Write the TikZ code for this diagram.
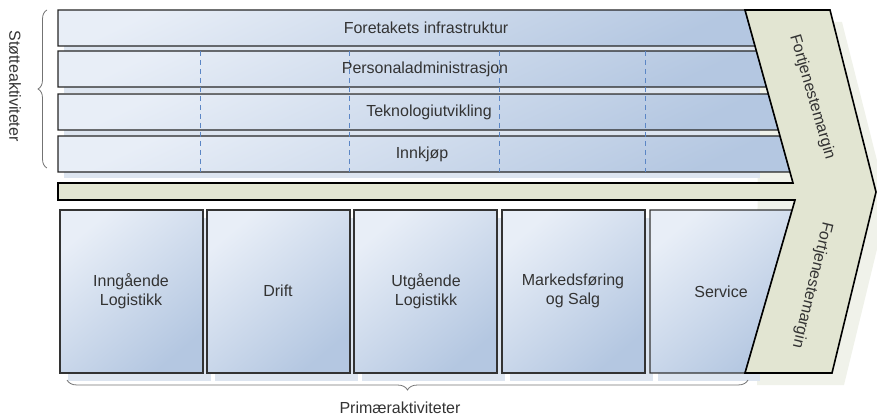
\documentclass[tikz,border=0pt]{standalone}
\usepackage{fontspec}
\setmainfont{Liberation Sans}
\usetikzlibrary{decorations.pathreplacing}
\definecolor{barL}{HTML}{E8EEF7}
\definecolor{barD}{HTML}{B4C7E1}
\definecolor{marg}{HTML}{E2E5D2}
\definecolor{shad}{HTML}{DDE5F0}
\definecolor{mshad}{HTML}{F0F2EA}
\definecolor{dashc}{HTML}{5B86C5}
\definecolor{txt}{HTML}{333333}
\begin{document}
\begin{tikzpicture}[x=1pt,y=-1pt,
  barshape/.style={top color=barL, bottom color=barD, shading angle=25, draw=black!85, line width=1.1pt},
  boxshape/.style={top color=barL, bottom color=barD, shading angle=40, draw=black!80, line width=1.1pt},
  margshape/.style={fill=marg, draw=black, line width=1.6pt, line join=miter},
  lbl/.style={font=\fontsize{16}{18.5}\selectfont, text=txt, align=center, inner sep=0pt},
  sepline/.style={draw=dashc, line width=0.8pt, dash pattern=on 5pt off 4pt},
  bracestyle/.style={draw=black!55, line width=0.8pt, decorate}
]
\useasboundingbox (0,0) rectangle (877,419);

% shadows
\fill[mshad] (758,22) -- (842,22) -- (888,204) -- (844,385) -- (757,385) -- cycle;
\foreach \t/\b in {10/46,51/87,94/130,136/172}{
  \fill[shad] (64,\t+6) rectangle (760,\b+6);
}
\foreach \l/\r in {60/203,207/350,354/497,502/645,650/752}{
  \fill[shad] (\l+8,218) rectangle (\r+8,381);
}

% support bars
\shade[barshape] (58,10) -- (745,10) -- (755.0,46) -- (58,46) -- cycle;
\shade[barshape] (58,51) -- (756.4,51) -- (766.4,87) -- (58,87) -- cycle;
\shade[barshape] (58,94) -- (768.3,94) -- (778.3,130) -- (58,130) -- cycle;
\shade[barshape] (58,136) -- (780.0,136) -- (790.0,172) -- (58,172) -- cycle;

% dashed separators
\foreach \x in {200,349,499,645}{
  \draw[sepline] (\x,51) -- (\x,172);
}

% primary boxes
\shade[boxshape] (60,210) rectangle (203,373);
\shade[boxshape] (207,210) rectangle (350,373);
\shade[boxshape] (354,210) rectangle (497,373);
\shade[boxshape] (502,210) rectangle (645,373);
\shade[boxshape] (650,210) -- (792.1,210) -- (745,373) -- (650,373) -- cycle;

% margin chevron with horizontal bar
\path[margshape] (58,183) -- (793,183) -- (745,10) -- (830,10) -- (876,192)
  -- (832,373) -- (745,373) -- (795,200) -- (58,200) -- cycle;

% texts
\node[lbl] (infra) at (426,28) {Foretakets infrastruktur};
\node[lbl] (pers) at (425,69) {Personaladministrasjon};
\node[lbl] (tek) at (429,112) {Teknologiutvikling};
\node[lbl] (innk) at (422,154) {Innkjøp};

\node[lbl] (inlog) at (131,291) {Inngående\\Logistikk};
\node[lbl] (drift) at (278,291) {Drift};
\node[lbl] (utlog) at (426,291) {Utgående\\Logistikk};
\node[lbl] (mark) at (573,291) {Markedsføring\\og Salg};
\node[lbl] (serv) at (721,292) {Service};

\node[lbl, rotate=-73.8] (fm1) at (812,97) {Fortjenestemargin};
\node[lbl, rotate=-103.6] (fm2) at (812,285) {Fortjenestemargin};

% braces
\draw[bracestyle, decoration={brace, amplitude=9pt}] (47,168) -- (47,10);
\node[lbl, rotate=-90] (stotte) at (15,86) {Støtteaktiviteter};
\draw[bracestyle, decoration={brace, amplitude=10pt}] (748,380) -- (67,380);
\node[lbl] (prim) at (400,408) {Primæraktiviteter};
\end{tikzpicture}
\end{document}
